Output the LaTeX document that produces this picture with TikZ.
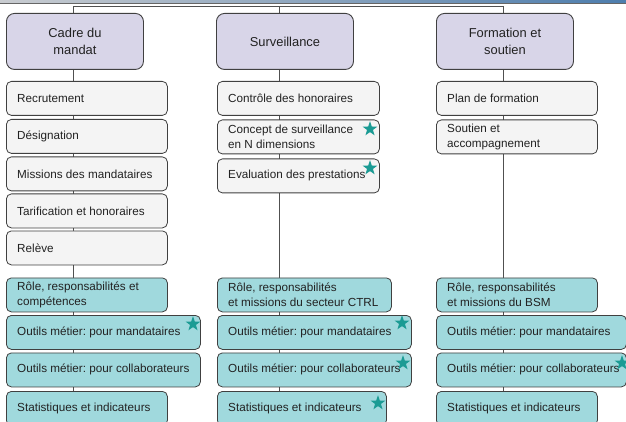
\documentclass[tikz,border=0pt]{standalone}
\usepackage{fontspec}
\setmainfont{Liberation Sans}
\frenchspacing
\usetikzlibrary{shapes.geometric,backgrounds}
\definecolor{headfill}{HTML}{D8D5E8}
\definecolor{itemfill}{HTML}{F4F4F4}
\definecolor{corefill}{HTML}{A0D9DD}
\definecolor{badgecol}{HTML}{1B9B94}
\definecolor{edgecol}{HTML}{404040}
\definecolor{linkcol}{HTML}{505050}
\definecolor{bandl}{HTML}{C9CCD0}
\definecolor{bandr}{HTML}{4D7DAD}
\definecolor{txt}{HTML}{222222}

% \boxitem{name}{style}{x}{y}{width}{text}: a rounded box with left-set text
\newcommand\boxitem[6]{%
  \node[#2, minimum width=#5] (#1) at (#3,#4) {};
  \node[itemtext] (#1-t) at (#1.west) {#6};
}

\begin{document}
\begin{tikzpicture}[x=1pt,y=-1pt,
  every node/.style={text=txt},
  head/.style={draw=edgecol, line width=0.9pt, fill=headfill, rounded corners=8pt,
    minimum width=137pt, minimum height=56pt, inner sep=0pt, align=center,
    anchor=north west, font=\fontsize{12.9}{17}\selectfont},
  item/.style={draw=edgecol, line width=0.8pt, fill=itemfill, rounded corners=5pt,
    minimum height=34pt, inner sep=0pt, anchor=north west},
  core/.style={item, fill=corefill},
  itemtext/.style={anchor=west, xshift=11pt, inner sep=0pt, align=left,
    font=\fontsize{11.7}{14.5}\selectfont},
  badge/.style={shape=star, star points=5, star point ratio=2.5, fill=badgecol,
    minimum size=15.5pt, inner sep=0pt},
  link/.style={draw=linkcol, line width=0.8pt}
]
\useasboundingbox (0,0) rectangle (626,422);

% strip along the upper edge
\shade[left color=bandl, right color=bandr] (0,0) rectangle (626,3);
\draw[edgecol!80, line width=0.5pt] (0,3) -- (626,3);

% column axes on the common bus
\coordinate (ax1) at (73,6.5);
\coordinate (ax2) at (279,6.5);
\coordinate (ax3) at (503,6.5);

% column 1
\node[head] (h1) at (6,13) {Cadre du\\mandat};
\boxitem{c1a}{item}{6}{81}{161pt}{Recrutement}
\boxitem{c1b}{item}{6}{119}{161pt}{Désignation}
\boxitem{c1c}{item}{6}{156.5}{161pt}{Missions des mandataires}
\boxitem{c1d}{item}{6}{193.5}{161pt}{Tarification et honoraires}
\boxitem{c1e}{item}{6}{230.5}{161pt}{Relève}
\boxitem{k1a}{core}{6}{277.5}{161pt}{Rôle, responsabilités et\\compétences}
\boxitem{k1b}{core}{6}{315}{194pt}{Outils métier: pour mandataires}
\boxitem{k1c}{core}{6}{352.5}{194pt}{Outils métier: pour collaborateurs}
\boxitem{k1d}{core}{6}{391}{161pt}{Statistiques et indicateurs}

% column 2
\node[head] (h2) at (216,13) {Surveillance};
\boxitem{c2a}{item}{217}{81}{162pt}{Contrôle des honoraires}
\boxitem{c2b}{item}{217}{119.5}{162pt}{Concept de surveillance\\en N dimensions}
\boxitem{c2c}{item}{217}{158.5}{162pt}{Evaluation des prestations}
\boxitem{k2a}{core}{217}{277.5}{174pt}{Rôle, responsabilités\\et missions du secteur CTRL}
\boxitem{k2b}{core}{217}{315}{194pt}{Outils métier: pour mandataires}
\boxitem{k2c}{core}{217}{352.5}{194pt}{Outils métier: pour collaborateurs}
\boxitem{k2d}{core}{217}{391}{169pt}{Statistiques et indicateurs}

% column 3
\node[head] (h3) at (436,13) {Formation et\\soutien};
\boxitem{c3a}{item}{436}{81}{161pt}{Plan de formation}
\boxitem{c3b}{item}{436}{119.5}{161pt}{Soutien et\\accompagnement}
\boxitem{k3a}{core}{436}{277.5}{161pt}{Rôle, responsabilités\\et missions du BSM}
\boxitem{k3b}{core}{436}{315}{190pt}{Outils métier: pour mandataires}
\boxitem{k3c}{core}{436}{352.5}{190pt}{Outils métier: pour collaborateurs}
\boxitem{k3d}{core}{436}{391}{161pt}{Statistiques et indicateurs}

% connectors, kept behind the boxes
\begin{scope}[on background layer]
  \draw[link] (ax1) -- (ax3);
  \draw[link] (ax1) -- (ax1 |- k1d.north);
  \draw[link] (ax2) -- (ax2 |- k2d.north);
  \draw[link] (ax3) -- (ax3 |- k3d.north);
\end{scope}

% stars
\node[badge] (s1) at (193,324) {};
\node[badge] (s2) at (370,129) {};
\node[badge] (s3) at (370,168) {};
\node[badge] (s4) at (402,323) {};
\node[badge] (s5) at (403,363) {};
\node[badge] (s6) at (378,403) {};
\node[badge] (s7) at (622,363) {};
\end{tikzpicture}
\end{document}
